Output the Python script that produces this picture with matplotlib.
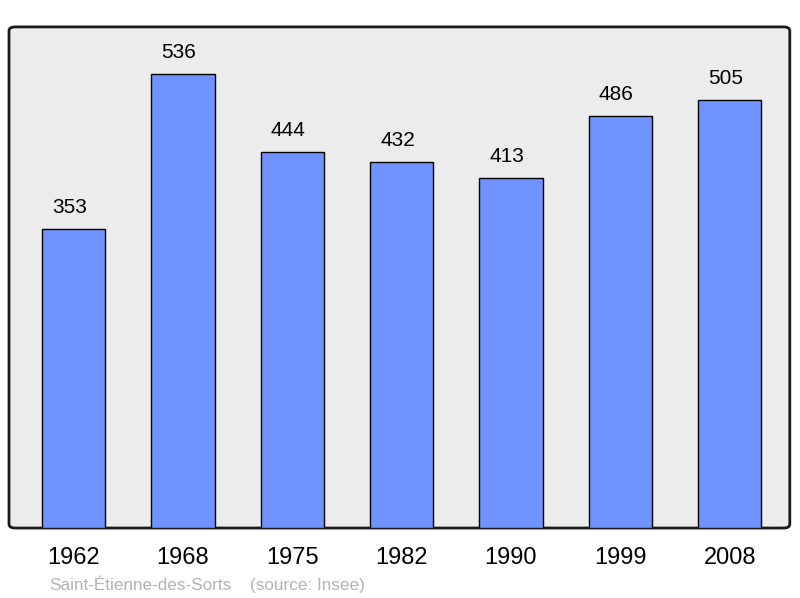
import matplotlib.pyplot as plt
from matplotlib.patches import FancyBboxPatch

# Data
years = ['1962', '1968', '1975', '1982', '1990', '1999', '2008']
population = [353, 536, 444, 432, 413, 486, 505]

plt.rcParams['font.family'] = ['Liberation Sans', 'DejaVu Sans']

fig = plt.figure(figsize=(8, 5.98), dpi=100)
ax = fig.add_axes([0.01125, 0.117, 0.976, 0.838])
ax.set_facecolor('none')

# rounded frame with grey fill
frame = FancyBboxPatch((0, 0), 1, 1, boxstyle='round,pad=0,rounding_size=0.008',
                       transform=ax.transAxes, facecolor='#ececec',
                       edgecolor='#1a1a1a', linewidth=2, zorder=0, clip_on=False)
ax.add_patch(frame)

x = range(len(years))
ax.bar(x, population, width=0.58, color='#7094ff', edgecolor='black',
       linewidth=1, zorder=2)

for i, v in enumerate(population):
    ax.annotate(str(v), (i, v), xytext=(-3, 8.5), textcoords='offset points',
                ha='center', va='bottom', fontsize=15, color='black')

ax.set_xlim(-0.59, 6.55)
ax.set_ylim(0, 591)
ax.set_xticks(list(x))
ax.set_xticklabels(years, fontsize=17)
ax.tick_params(axis='x', length=0, pad=13.5)
ax.set_yticks([])
for s in ax.spines.values():
    s.set_visible(False)

fig.text(49 / 800, 1 - 585.5 / 598, 'Saint-Étienne-des-Sorts', fontsize=12.3,
         color='#b3b3b3', va='center', ha='left')
fig.text(250 / 800, 1 - 585.5 / 598, '(source: Insee)', fontsize=12.3,
         color='#b3b3b3', va='center', ha='left')

fig.savefig('out.png', dpi=100)
